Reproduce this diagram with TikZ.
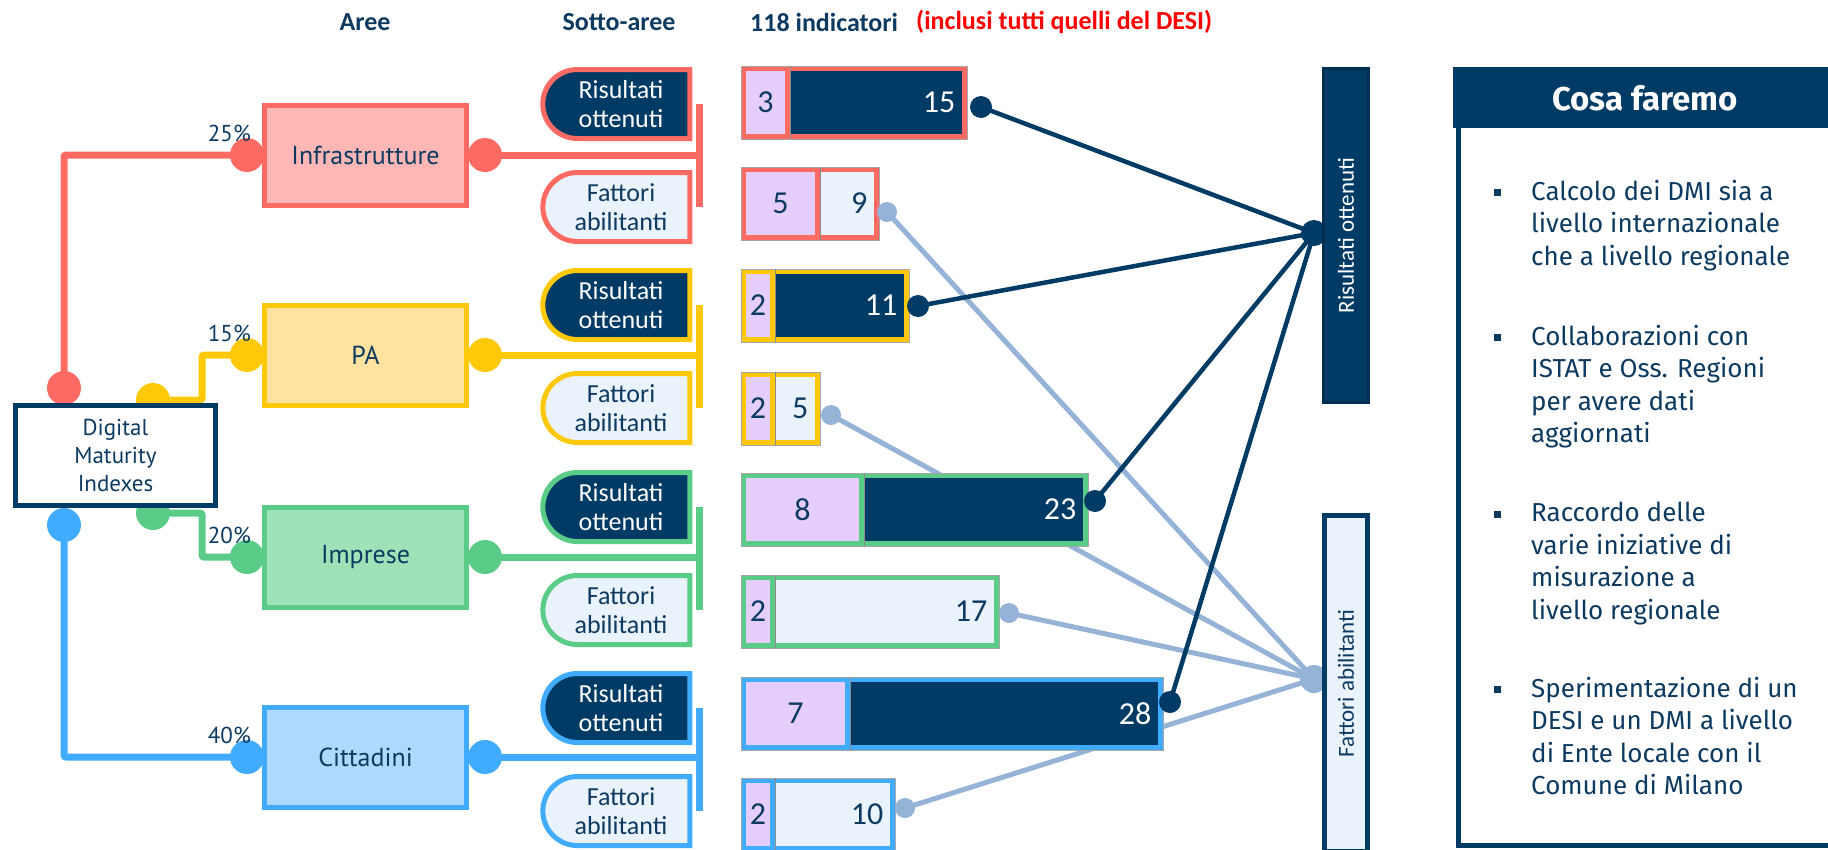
\documentclass[tikz,border=0pt]{standalone}
\usepackage{fontspec}
\usetikzlibrary{shapes.misc}
\newfontfamily\carl{Carlito}
\newfontfamily\pts{PT Sans}
\newfontfamily\fir{Fira Sans}
\definecolor{navy}{HTML}{003B66}
\definecolor{txt}{HTML}{0D3A60}
\definecolor{redB}{HTML}{FF6B63}\definecolor{redF}{HTML}{FFB7B6}
\definecolor{yelB}{HTML}{FFC907}\definecolor{yelF}{HTML}{FFE1A0}
\definecolor{grnB}{HTML}{5ACC88}\definecolor{grnF}{HTML}{9EE2B7}
\definecolor{bluB}{HTML}{41ACFF}\definecolor{bluF}{HTML}{AED9FE}
\definecolor{lav}{HTML}{E5CDFE}
\definecolor{pale}{HTML}{EAF2FC}
\definecolor{steel}{HTML}{95B3D7}
\tikzset{
  areabox/.style={draw=#1, line width=5pt, minimum width=202pt, minimum height=100pt, inner sep=0pt, font=\pts\fontsize{26}{30}\selectfont, text=txt},
  dot/.style={circle, fill=#1, inner sep=0pt, minimum size=34pt},
  enddot/.style={circle, fill=#1, inner sep=0pt, minimum size=22pt},
  tree/.style={draw=#1, line width=7pt, rounded corners=2pt},
  pct/.style={anchor=east, font=\pts\fontsize{23}{25}\selectfont, text=txt, inner sep=0pt},
  subR/.style={rounded rectangle, rounded rectangle east arc=none, draw=#1, fill=navy, text=white, line width=5pt, minimum width=147pt, minimum height=69pt, inner sep=0pt, align=center, font=\carl\fontsize{26}{29}\selectfont},
  subF/.style={subR=#1, fill=pale, text=txt},
  barbox/.style={line width=5pt, minimum height=68pt, inner sep=0pt, outer sep=0pt},
  numf/.style={font=\carl\fontsize{32}{34}\selectfont, inner sep=0pt},
  dkline/.style={draw=navy, line width=4.5pt},
  ltline/.style={draw=steel, line width=5pt},
  hdr/.style={font=\carl\bfseries\fontsize{26}{30}\selectfont, text=txt, inner sep=0pt},
  bul/.style={rectangle, fill=txt, inner sep=0pt, minimum size=7pt},
  btxt/.style={anchor=north west, align=left, inner sep=0pt, font=\fir\fontsize{26}{32.5}\selectfont, text=txt}
}
% #1 name, #2 outer top y, #3 right x, #4 purple right x, #5 border colour, #6 main fill, #7 number colour, #8 n1, #9 n2
\newcommand\indbar[9]{%
  \pgfmathsetmacro\barw{#3-746}%
  \pgfmathsetmacro\purw{#4-746}%
  \node[barbox, draw=#5, fill=#6, minimum width=\barw pt, anchor=north west] (#1) at (743.5,#2+2.5) {};
  \node[barbox, draw=#5, fill=lav, minimum width=\purw pt, anchor=north west] (#1p) at (743.5,#2+2.5) {};
  \draw[black!35, line width=0.7pt] (741,#2) rectangle (#3,#2+73);
  \draw[black!45, line width=0.7pt] (#4,#2) -- (#4,#2+73);
  \node[numf, text=txt] at (#1p.center) {#8};
  \node[numf, text=#7, anchor=east] at ([xshift=-9pt]#1.east) {#9};
}
\begin{document}
\begin{tikzpicture}[x=1pt,y=-1pt]
\useasboundingbox (0,0) rectangle (1828,849);

% headers
\node[hdr] (hA) at (365,22) {Aree};
\node[hdr] (hS) at (619,22) {Sotto-aree};
\node[hdr, anchor=west] (hI) at (750,22) {118 indicatori};
\node[hdr, anchor=west, text=red] (hD) at (916,22) {(inclusi tutti quelli del DESI)};

% end points of bars and hubs
\coordinate (irE) at (981,107); \coordinate (ifE) at (887,212);
\coordinate (prE) at (918,306); \coordinate (pfE) at (831,415);
\coordinate (mrE) at (1095,501); \coordinate (mfE) at (1009,613);
\coordinate (crE) at (1170,702); \coordinate (cfE) at (905,808);
\coordinate (hR) at (1314,233); \coordinate (hF) at (1314,679);
\foreach \p in {ifE,pfE,mfE,cfE} \draw[ltline] (\p) -- (hF);
\foreach \p in {irE,prE,mrE,crE} \draw[dkline] (\p) -- (hR);

% tree from DMI to areas
\node[dot=redB] (dR) at (64,388) {};
\node[dot=yelB] (dY) at (153,400) {};
\node[dot=grnB] (dG) at (153,513) {};
\node[dot=bluB] (dB) at (64,525) {};
\node[dot=redB] (iL) at (247,155) {};
\node[dot=yelB] (pL) at (247,355) {};
\node[dot=grnB] (mL) at (247,557) {};
\node[dot=bluB] (cL) at (247,757) {};
\coordinate (yk) at (202,400);
\coordinate (gk) at (202,513);
\draw[tree=redB] (dR.center) |- (iL.center);
\draw[tree=yelB] (dY.center) -- (yk) |- (pL.center);
\draw[tree=grnB] (dG.center) -- (gk) |- (mL.center);
\draw[tree=bluB] (dB.center) |- (cL.center);

\node[draw=navy, line width=5pt, fill=white, minimum width=200pt, minimum height=100pt, align=center, inner sep=0pt,
      font=\pts\fontsize{23}{28}\selectfont, text=txt] (dmi) at (115.5,455.5) {Digital\\Maturity\\Indexes};

% right dots of areas and buses
\node[dot=redB] (iR) at (485,155) {};
\node[dot=yelB] (pR) at (485,355) {};
\node[dot=grnB] (mR) at (485,557) {};
\node[dot=bluB] (cR) at (485,757) {};
\coordinate (iB) at (699,155); \coordinate (pB) at (699,355);
\coordinate (mB) at (699,557); \coordinate (cB) at (699,757);
\draw[tree=redB] (iR.center) -- (iB);
\draw[tree=yelB] (pR.center) -- (pB);
\draw[tree=grnB] (mR.center) -- (mB);
\draw[tree=bluB] (cR.center) -- (cB);

% area boxes
\node[areabox=redB, fill=redF] (inf) at (365.5,155) {Infrastrutture};
\node[areabox=yelB, fill=yelF] (pa) at (365.5,355) {PA};
\node[areabox=grnB, fill=grnF] (imp) at (365.5,557) {Imprese};
\node[areabox=bluB, fill=bluF] (cit) at (365.5,757) {Cittadini};
\node[pct] (p1) at (251,133) {25\%};
\node[pct] (p2) at (251,333) {15\%};
\node[pct] (p3) at (251,535) {20\%};
\node[pct] (p4) at (251,735) {40\%};

% sub-areas
\draw[tree=redB] (699,104) -- (699,207);
\draw[tree=yelB] (699,305) -- (699,408);
\draw[tree=grnB] (699,507) -- (699,610);
\draw[tree=bluB] (699,708) -- (699,811);
\node[subR=redB] (sIR) at (621,104) {Risultati\\ottenuti};
\node[subF=redB] (sIF) at (621,207) {Fattori\\abilitanti};
\node[subR=yelB] (sPR) at (621,305) {Risultati\\ottenuti};
\node[subF=yelB] (sPF) at (621,408) {Fattori\\abilitanti};
\node[subR=grnB] (sMR) at (621,507) {Risultati\\ottenuti};
\node[subF=grnB] (sMF) at (621,610) {Fattori\\abilitanti};
\node[subR=bluB] (sCR) at (621,708) {Risultati\\ottenuti};
\node[subF=bluB] (sCF) at (621,811) {Fattori\\abilitanti};

% indicator bars
\indbar{bIR}{66}{967}{790}{redB}{navy}{white}{3}{15}
\indbar{bIF}{167}{879}{820}{redB}{pale}{txt}{5}{9}
\indbar{bPR}{269}{909}{775}{yelB}{navy}{white}{2}{11}
\indbar{bPF}{372}{820}{775}{yelB}{pale}{txt}{2}{5}
\indbar{bMR}{473}{1088}{864}{grnB}{navy}{white}{8}{23}
\indbar{bMF}{575}{999}{775}{grnB}{pale}{txt}{2}{17}
\indbar{bCR}{677}{1163}{850}{bluB}{navy}{white}{7}{28}
\indbar{bCF}{778}{895}{775}{bluB}{pale}{txt}{2}{10}

% bar end dots
\foreach \p in {irE,prE,mrE,crE} \node[enddot=navy] at (\p) {};
\foreach \p in {ifE,pfE,mfE,cfE} \node[enddot=steel, minimum size=20pt] at (\p) {};
\node[enddot=navy, minimum size=26pt] (hubR) at (hR) {};
\node[enddot=steel, minimum size=28pt] (hubF) at (hF) {};

% vertical boxes
\node[draw=navy!80!black, line width=3pt, fill=navy, rotate=90, minimum width=334pt, minimum height=45pt, inner sep=0pt,
      font=\carl\fontsize{23}{26}\selectfont, text=white] (boxR) at (1346,235.5) {Risultati ottenuti};
\node[draw=navy, line width=5pt, fill=pale, rotate=90, minimum width=336pt, minimum height=43pt, inner sep=0pt,
      font=\carl\fontsize{23}{26}\selectfont, text=txt] (boxF) at (1346,683.5) {Fattori abilitanti};

% panel
\node[draw=navy, line width=5pt, minimum width=420pt, minimum height=775.5pt, anchor=north west, inner sep=0pt] (panel) at (1455.5,67) {};
\fill[navy] (1453,67) rectangle (1840,128);
\node[font=\fir\bfseries\fontsize{33}{36}\selectfont, text=white, inner sep=0pt] (ttl) at (1645,98) {Cosa faremo};

\node[bul] (u1) at (1497,192) {};
\node[btxt] (t1) at (1531,180) {Calcolo dei DMI sia a\\livello internazionale\\che a livello regionale};
\node[bul] (u2) at (1497,337) {};
\node[btxt] (t2) at (1531,325) {Collaborazioni con\\ISTAT e Oss. Regioni\\per avere dati\\aggiornati};
\node[bul] (u3) at (1497,514) {};
\node[btxt] (t3) at (1531,502) {Raccordo delle\\varie iniziative di\\misurazione a\\livello regionale};
\node[bul] (u4) at (1497,689) {};
\node[btxt] (t4) at (1531,677) {Sperimentazione di un\\DESI e un DMI a livello\\di Ente locale con il\\Comune di Milano};
\end{tikzpicture}
\end{document}
